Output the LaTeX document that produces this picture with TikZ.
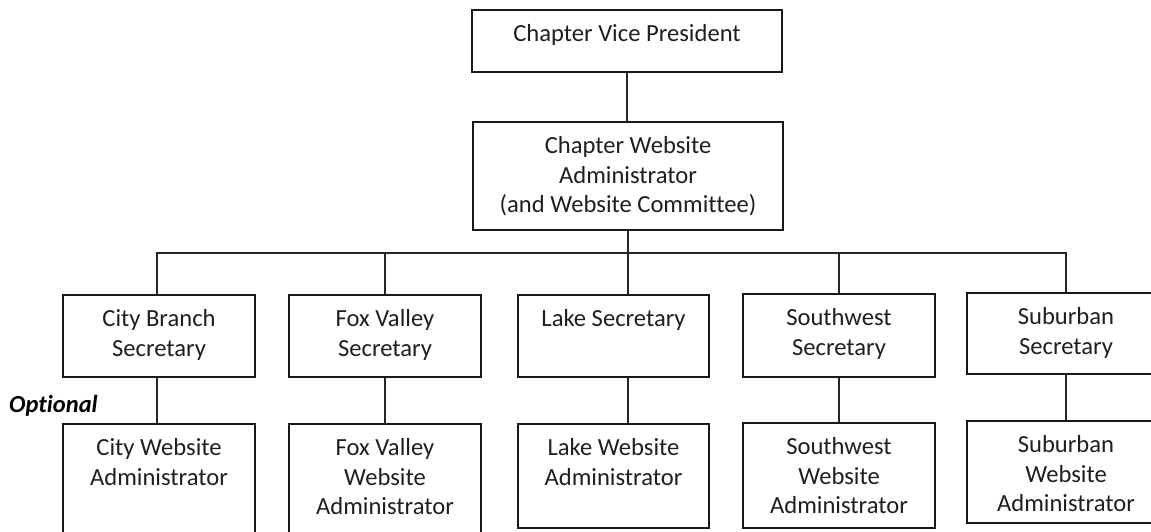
\documentclass[tikz,border=0pt]{standalone}
\usepackage{fontspec}
\setmainfont{Carlito}[Ligatures={NoCommon,NoRare,NoContextual}]
\newcommand{\mystrut}{\rule{0pt}{20pt}}
\begin{document}
\begin{tikzpicture}[x=1pt,y=-1pt,
  box/.style={draw=black!90, line width=1.6pt, fill=white, inner sep=0pt},
  txt/.style={anchor=north, align=center, inner sep=0pt, yshift=-12.5pt,
    font=\fontsize{24.6}{29.5}\selectfont, text=black!88},
  conn/.style={draw=black!85, line width=1.3pt}]
\useasboundingbox (0,0) rectangle (1151,531);
\clip (0,0) rectangle (1151,531);
% top
\node[box, minimum width=310pt, minimum height=62pt,
  label={[txt]north:\mystrut Chapter Vice President}] (vp) at (627,41) {};
\node[box, minimum width=310pt, minimum height=108pt,
  label={[txt]north:\mystrut Chapter Website\\Administrator\\(and Website Committee)}] (cwa) at (628,176) {};
% secretaries
\node[box, minimum width=192pt, minimum height=82pt,
  label={[txt]north:\mystrut City Branch\\Secretary}] (cb) at (159,336) {};
\node[box, minimum width=192pt, minimum height=82pt,
  label={[txt]north:\mystrut Fox Valley\\Secretary}] (fv) at (385,336) {};
\node[box, minimum width=191pt, minimum height=82pt,
  label={[txt]north:\mystrut Lake Secretary}] (lk) at (613.5,336) {};
\node[box, minimum width=192pt, minimum height=83pt,
  label={[txt]north:\mystrut Southwest\\Secretary}] (sw) at (839,335.5) {};
\node[box, minimum width=198pt, minimum height=81pt,
  label={[txt]north:\mystrut Suburban\\Secretary}] (sub) at (1066,333.5) {};
% website administrators
\node[box, minimum width=192pt, minimum height=121pt,
  label={[txt]north:\mystrut City Website\\Administrator}] (cbw) at (159,484.5) {};
\node[box, minimum width=192pt, minimum height=121pt,
  label={[txt]north:\mystrut Fox Valley\\Website\\Administrator}] (fvw) at (385,484.5) {};
\node[box, minimum width=191pt, minimum height=104pt,
  label={[txt]north:\mystrut Lake Website\\Administrator}] (lkw) at (613.5,476) {};
\node[box, minimum width=192pt, minimum height=105pt,
  label={[txt]north:\mystrut Southwest\\Website\\Administrator}] (sww) at (839,475.5) {};
\node[box, minimum width=198pt, minimum height=102pt,
  label={[txt]north:\mystrut Suburban\\Website\\Administrator}] (subw) at (1066,472) {};
% optional label
\node[anchor=base west, inner sep=0pt, text=black,
  font=\fontsize{24.5}{28}\selectfont\bfseries\itshape] (opt) at (9,412) {Optional};
% connectors
\coordinate (bus) at (0,253);
\draw[conn] (vp.south) -- (vp.south |- cwa.north);
\draw[conn] (cwa.south) -- (cwa.south |- lk.north);
\draw[conn] ([xshift=-2pt]cb.north) -- ([xshift=-2pt]cb.north |- bus) -- (sub.north |- bus) -- (sub.north);
\draw[conn] (fv.north) -- (fv.north |- bus);
\draw[conn] (sw.north) -- (sw.north |- bus);
\draw[conn] ([xshift=-2pt]cb.south) -- ([xshift=-2pt]cbw.north);
\draw[conn] (fv.south) -- (fvw.north);
\draw[conn] (lk.south -| cwa.south) -- (lkw.north -| cwa.south);
\draw[conn] (sw.south) -- (sww.north);
\draw[conn] (sub.south) -- (subw.north);
\end{tikzpicture}
\end{document}
